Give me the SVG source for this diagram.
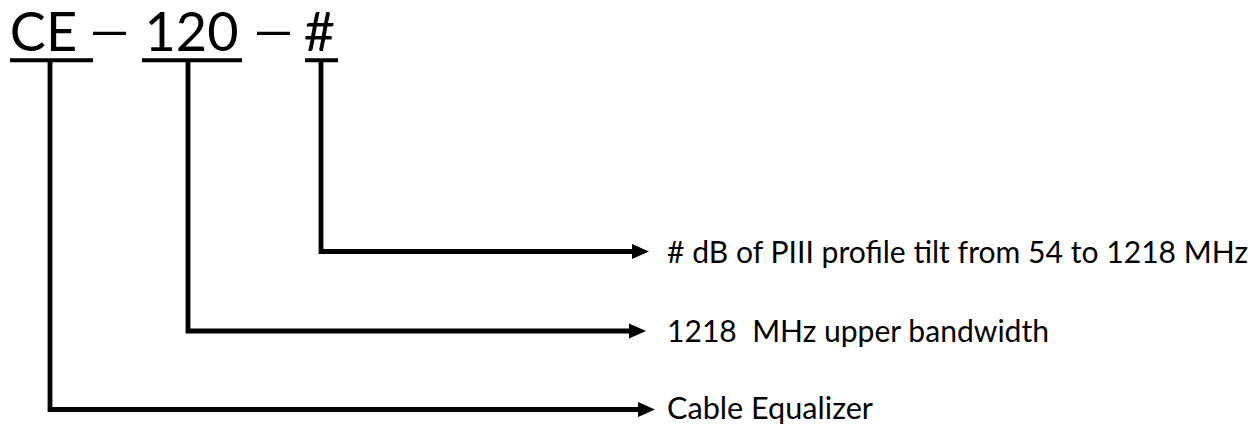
<svg xmlns="http://www.w3.org/2000/svg" width="1258" height="426" viewBox="0 0 1258 426">
<style>
.title{font-family:Lato,"Open Sans","Liberation Sans",sans-serif;font-size:54px;fill:#000;text-anchor:middle}
.dash{font-family:"Liberation Sans",Arial,sans-serif;font-size:50px;fill:#000}
.label{font-family:Lato,"Open Sans","Liberation Sans",sans-serif;font-size:30px;fill:#000}
.ul{stroke:#000;stroke-width:4;fill:none}
.conn{stroke:#000;stroke-width:4.8;fill:none;stroke-linejoin:miter}
</style>
<defs>
<marker id="arrow" markerUnits="userSpaceOnUse" markerWidth="18" markerHeight="16" refX="0" refY="7.5" orient="auto" overflow="visible">
<path d="M0,0 L17,7.5 L0,15 Z" fill="#000"/>
</marker>
</defs>
<rect width="1258" height="426" fill="#fff"/>
<g id="node-ce">
<text class="title" x="43.5" y="51">CE</text>
<line class="ul" x1="10" y1="60.3" x2="93" y2="60.3"/>
</g>
<g id="dash-1"><text class="dash" x="93" y="46" textLength="33" lengthAdjust="spacingAndGlyphs">–</text></g>
<g id="node-120">
<text class="title" x="191.5" y="51">120</text>
<line class="ul" x1="142" y1="60.3" x2="242" y2="60.3"/>
</g>
<g id="dash-2"><text class="dash" x="257" y="46" textLength="33" lengthAdjust="spacingAndGlyphs">–</text></g>
<g id="node-hash">
<text class="title" x="319.5" y="51">#</text>
<line class="ul" x1="305" y1="60.3" x2="338" y2="60.3"/>
</g>
<g id="connectors">
<path class="conn" d="M321,62 V251.5 H632" marker-end="url(#arrow)"/>
<path class="conn" d="M188,62 V331 H629" marker-end="url(#arrow)"/>
<path class="conn" d="M50,62 V409.5 H638" marker-end="url(#arrow)"/>
</g>
<g id="label-tilt"><text class="label" x="667" y="262.5" textLength="581" lengthAdjust="spacingAndGlyphs"># dB of PIII profile tilt from 54 to 1218 MHz</text></g>
<g id="label-bandwidth"><text class="label" x="667" y="341.5" textLength="382" lengthAdjust="spacingAndGlyphs" xml:space="preserve">1218  MHz upper bandwidth</text></g>
<g id="label-equalizer"><text class="label" x="667" y="419.3" textLength="206" lengthAdjust="spacingAndGlyphs">Cable Equalizer</text></g>
</svg>
